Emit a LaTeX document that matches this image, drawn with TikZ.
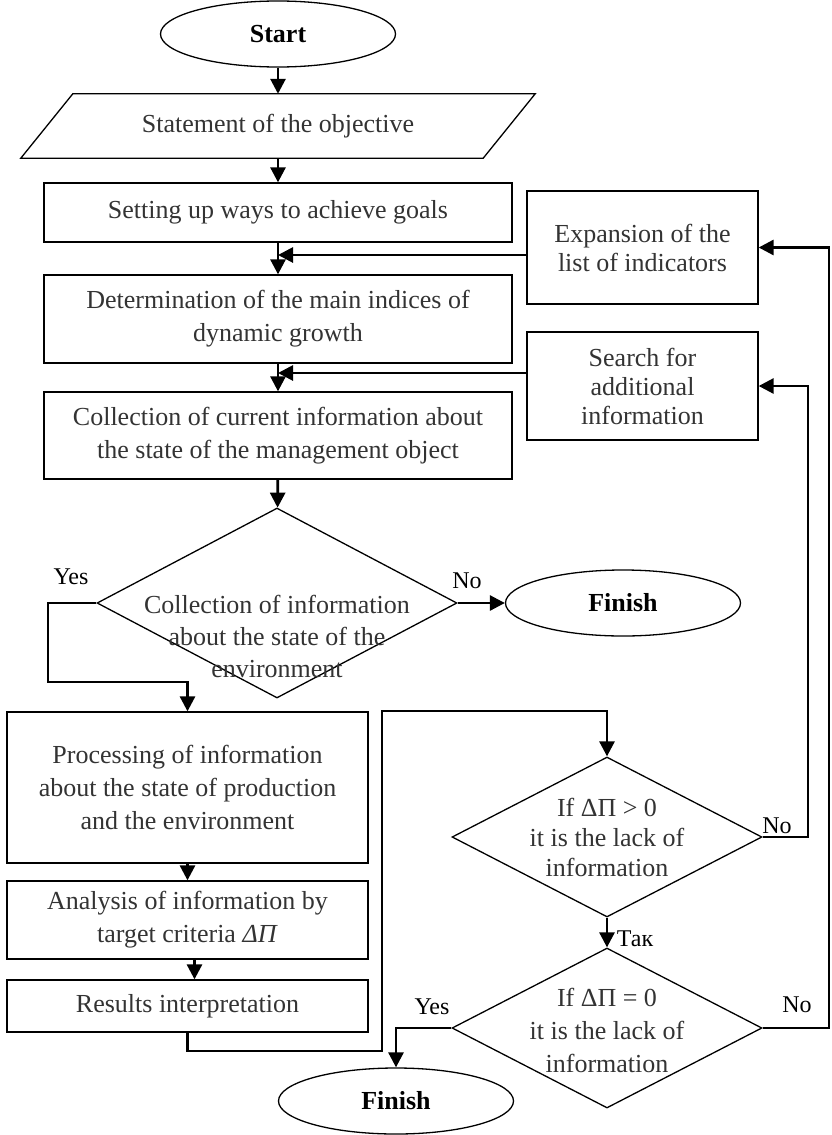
\documentclass[tikz,border=0pt]{standalone}
\usepackage{fontspec}
\setmainfont{Liberation Serif}
\usetikzlibrary{shapes.geometric}
\usetikzlibrary{arrows.meta}

\tikzset{
  blk/.style={draw,rectangle,line width=1.3pt,align=center,inner sep=2pt,
    text=black!80,font=\fontsize{26}{33}\selectfont},
  side/.style={blk,font=\fontsize{26}{29}\selectfont},
  term/.style={draw,ellipse,line width=1.3pt,minimum width=235,minimum height=66,
    inner sep=0pt,font=\bfseries\fontsize{26}{30}\selectfont},
  dec/.style={draw,diamond,line width=1.3pt,inner sep=0pt},
  dtxt/.style={align=center,text=black!80,font=\fontsize{26}{32}\selectfont},
  lbl/.style={font=\fontsize{24}{28}\selectfont},
  conn/.style={line width=2.8pt,-{Triangle[length=15pt,width=15pt]}},
  wire/.style={line width=2.8pt}
}

\begin{document}
\begin{tikzpicture}[x=1pt,y=-1pt]
\useasboundingbox (0,0) rectangle (831,1135);
% main column
\node[term] (start) at (278,34) {Start};
\node[align=center,text=black!80,font=\fontsize{26}{33}\selectfont,
  minimum width=462,minimum height=64,inner sep=0pt] (obj) at (278,126)
  {Statement of the objective};
\draw[line width=1.3pt] ([xshift=-26pt]obj.south west) -- ([xshift=26pt]obj.north west)
  -- ([xshift=26pt]obj.north east) -- ([xshift=-26pt]obj.south east) -- cycle;
\node[blk,minimum width=468,minimum height=59] (goals) at (278,212.5)
  {Setting up ways to achieve goals};
\node[blk,minimum width=468,minimum height=88] (det) at (278,319)
  {Determination of the main indices of\\dynamic growth};
\node[blk,minimum width=468,minimum height=87] (coll) at (278,435.5)
  {Collection of current information about\\the state of the management object};
\node[dec,minimum width=360,minimum height=190] (q1) at (277,603) {};
\node[dtxt] (q1t) at (277,636)
  {Collection of information\\about the state of the\\environment};
\node[term] (fin1) at (623,603) {Finish};
% lower left column
\node[blk,minimum width=361,minimum height=151] (proc) at (187.5,787.5)
  {Processing of information\\about the state of production\\and the environment};
\node[blk,minimum width=361,minimum height=78] (anl) at (187.5,920)
  {Analysis of information by\\target criteria \textit{ΔП}};
\node[blk,minimum width=361,minimum height=52] (res) at (187.5,1006)
  {Results interpretation};
% right side
\node[side,minimum width=231,minimum height=113] (exp) at (642.5,247.5)
  {Expansion of the\\list of indicators};
\node[side,minimum width=231,minimum height=108] (srch) at (642.5,386)
  {Search for\\additional\\information};
\node[dec,minimum width=310,minimum height=160] (q2) at (607,837) {};
\node[dtxt,font=\fontsize{26}{30}\selectfont] (q2t) at (607,837)
  {If ΔП > 0\\it is the lack of\\information};
\node[dec,minimum width=310,minimum height=160] (q3) at (607,1028) {};
\node[dtxt,font=\fontsize{26}{33}\selectfont] (q3t) at (607,1030)
  {If ΔП = 0\\it is the lack of\\information};
\node[term] (fin2) at (396,1101) {Finish};

% turning points
\coordinate (m1) at (278,255);
\coordinate (m2) at (278,373);
\coordinate (y1) at (48,682);
\coordinate (r1) at (382,1051);
\coordinate (r2) at (382,711);
\coordinate (n2) at (808,600);
\coordinate (n3) at (829,600);

\draw[conn] (start) -- (obj.north);
\draw[conn] (obj.south) -- (goals);
\draw[conn] (goals) -- (det);
\draw[conn] (det) -- (coll);
\draw[conn] (coll) -- (q1);
\draw[conn] (exp.west |- m1) -- (m1);
\draw[conn] (srch.west |- m2) -- (m2);
\draw[conn] (q1.east) -- (fin1.west);
\draw[conn] (q1.west) -| (y1) -| (proc.north);
\draw[conn] (proc) -- (anl);
\draw[conn] ([xshift=7pt]anl.south) -- ([xshift=7pt]res.north);
\draw[conn] (res.south) |- (r1) -- (r2) -| (q2.north);
\draw[conn] (q2.south) -- (q3.north);
\draw[conn] (q2.east) -| (n2) |- (srch.east);
\draw[conn] (q3.east) -| (n3) |- (exp.east);
\draw[conn] (q3.west) -| (fin2.north);
%\draw[wire] (q3.west) -- (fin2);

% branch labels
\node[lbl] (yes1) at (71,577) {Yes};
\node[lbl] (no1) at (467,581) {No};
\node[lbl] (no2) at (777,826) {No};
\node[lbl] (tak) at (635,939) {Так};
\node[lbl] (yes3) at (432,1007) {Yes};
\node[lbl] (no3) at (797,1005) {No};
\end{tikzpicture}
\end{document}
